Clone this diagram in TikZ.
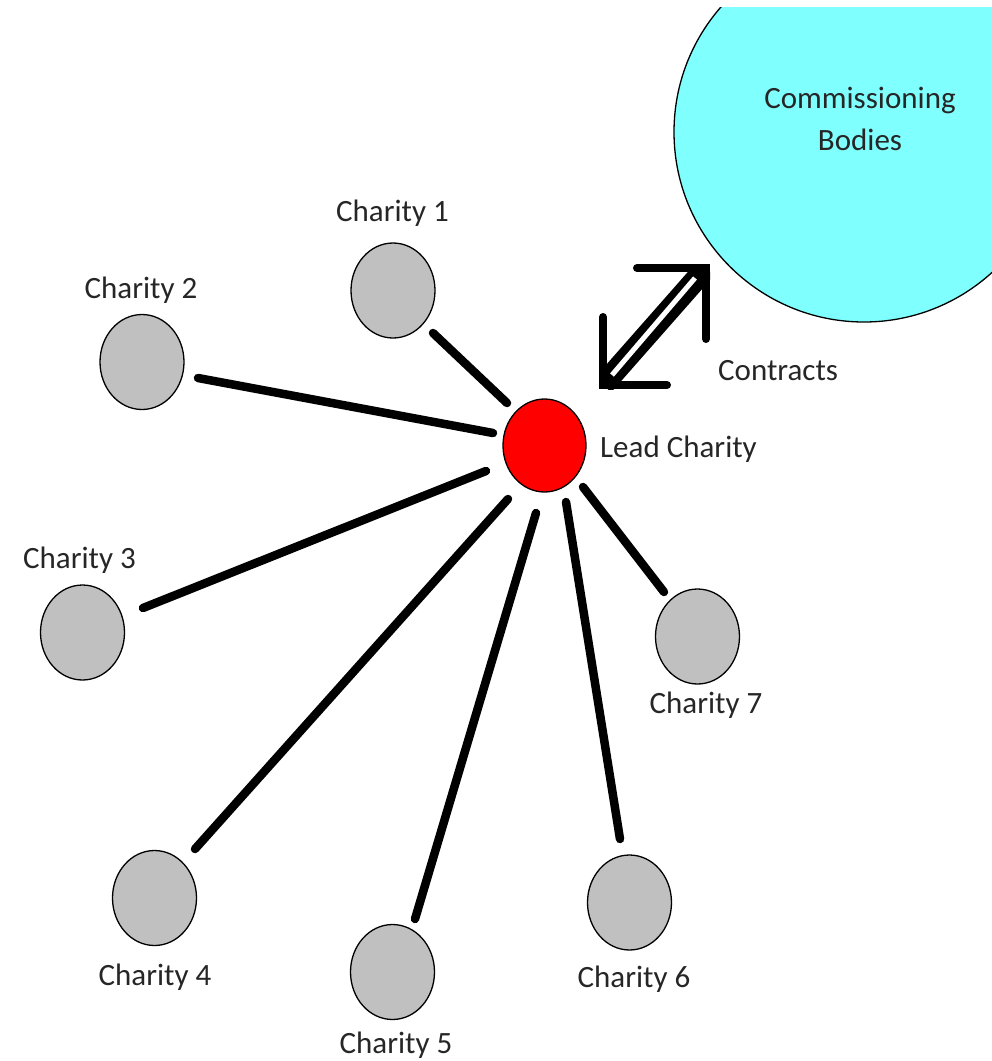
\documentclass[tikz,border=0pt]{standalone}
\usepackage{fontspec}
\setmainfont{Carlito}
\usetikzlibrary{shapes.geometric}
\definecolor{cbcyan}{HTML}{80FFFF}
\definecolor{leadred}{HTML}{FF0000}
\definecolor{chgray}{HTML}{C0C0C0}
\begin{document}
\begin{tikzpicture}[x=1pt,y=-1pt,
  charity/.style={ellipse, draw=black, line width=1.3pt, fill=chgray, minimum width=84pt, minimum height=95pt, inner sep=0pt},
  leadnode/.style={charity, fill=leadred, minimum width=83pt, minimum height=93pt},
  lbl/.style={font=\fontsize{31}{42}\selectfont, text=black!85, inner sep=0pt, anchor=base},
  link/.style={line width=8.5pt, line cap=round},
  arm/.style={line width=8pt, line cap=round, line join=miter}
]
\useasboundingbox (0,0) rectangle (992,1061);
\begin{scope}
  \clip (0,7) rectangle (992,1061);
  \node[circle, draw=black, line width=1.3pt, fill=cbcyan, minimum size=380pt, inner sep=0pt] (cb) at (864,132) {};
\end{scope}
\node[lbl, align=center] (cbtext) at (860,150) {Commissioning\\Bodies};

% nodes
\node[leadnode] (lead) at (544.5,445.5) {};
\node[charity] (c1) at (393,290.5) {};
\node[charity] (c2) at (142,362) {};
\node[charity] (c3) at (82.5,632.5) {};
\node[charity] (c4) at (154.5,898) {};
\node[charity] (c5) at (392.5,972) {};
\node[charity] (c6) at (629.5,902.5) {};
\node[charity] (c7) at (697.5,636.5) {};

% labels
\node[lbl, anchor=base west] (leadlbl) at (600,457) {Lead Charity};
\node[lbl] (l1) at (392.5,221) {Charity 1};
\node[lbl] (l2) at (141,298) {Charity 2};
\node[lbl] (l3) at (79.5,568) {Charity 3};
\node[lbl] (l4) at (155,985) {Charity 4};
\node[lbl] (l5) at (396,1053) {Charity 5};
\node[lbl] (l6) at (634,987) {Charity 6};
\node[lbl] (l7) at (706,713) {Charity 7};
\node[lbl, anchor=base west] (contracts) at (718,380) {Contracts};

% connectors
\draw[link] ([shift={(40,42.5)}]c1.center) -- ([shift={(-37.5,-42.5)}]lead.center);
\draw[link] ([shift={(56,16)}]c2.center) -- ([shift={(-51.5,-12.5)}]lead.center);
\draw[link] ([shift={(60.5,-24.5)}]c3.center) -- ([shift={(-58.5,25.5)}]lead.center);
\draw[link] ([shift={(40.5,-49)}]c4.center) -- ([shift={(-36.5,53.5)}]lead.center);
\draw[link] ([shift={(22.5,-53)}]c5.center) -- ([shift={(-8.5,67.5)}]lead.center);
\draw[link] ([shift={(-9.5,-63.5)}]c6.center) -- ([shift={(21.5,56.5)}]lead.center);
\draw[link] ([shift={(-33.5,-44.5)}]c7.center) -- ([shift={(38.5,41.5)}]lead.center);

% contracts double arrow
\coordinate (ll) at (603,385);
\coordinate (ur) at (706,268);
\begin{scope}
  \clip (599,264) rectangle (710,389);
  \draw[line width=22pt] (ll) -- (ur);
\end{scope}
\draw[white, line width=5pt] ([shift={(9,-10)}]ll) -- ([shift={(-11,10)}]ur);
\draw[arm] ([shift={(0,-68)}]ll) -- (ll) -- ([shift={(64,0)}]ll);
\draw[arm] ([shift={(-69,0)}]ur) -- (ur) -- ([shift={(0,71)}]ur);
\end{tikzpicture}
\end{document}
